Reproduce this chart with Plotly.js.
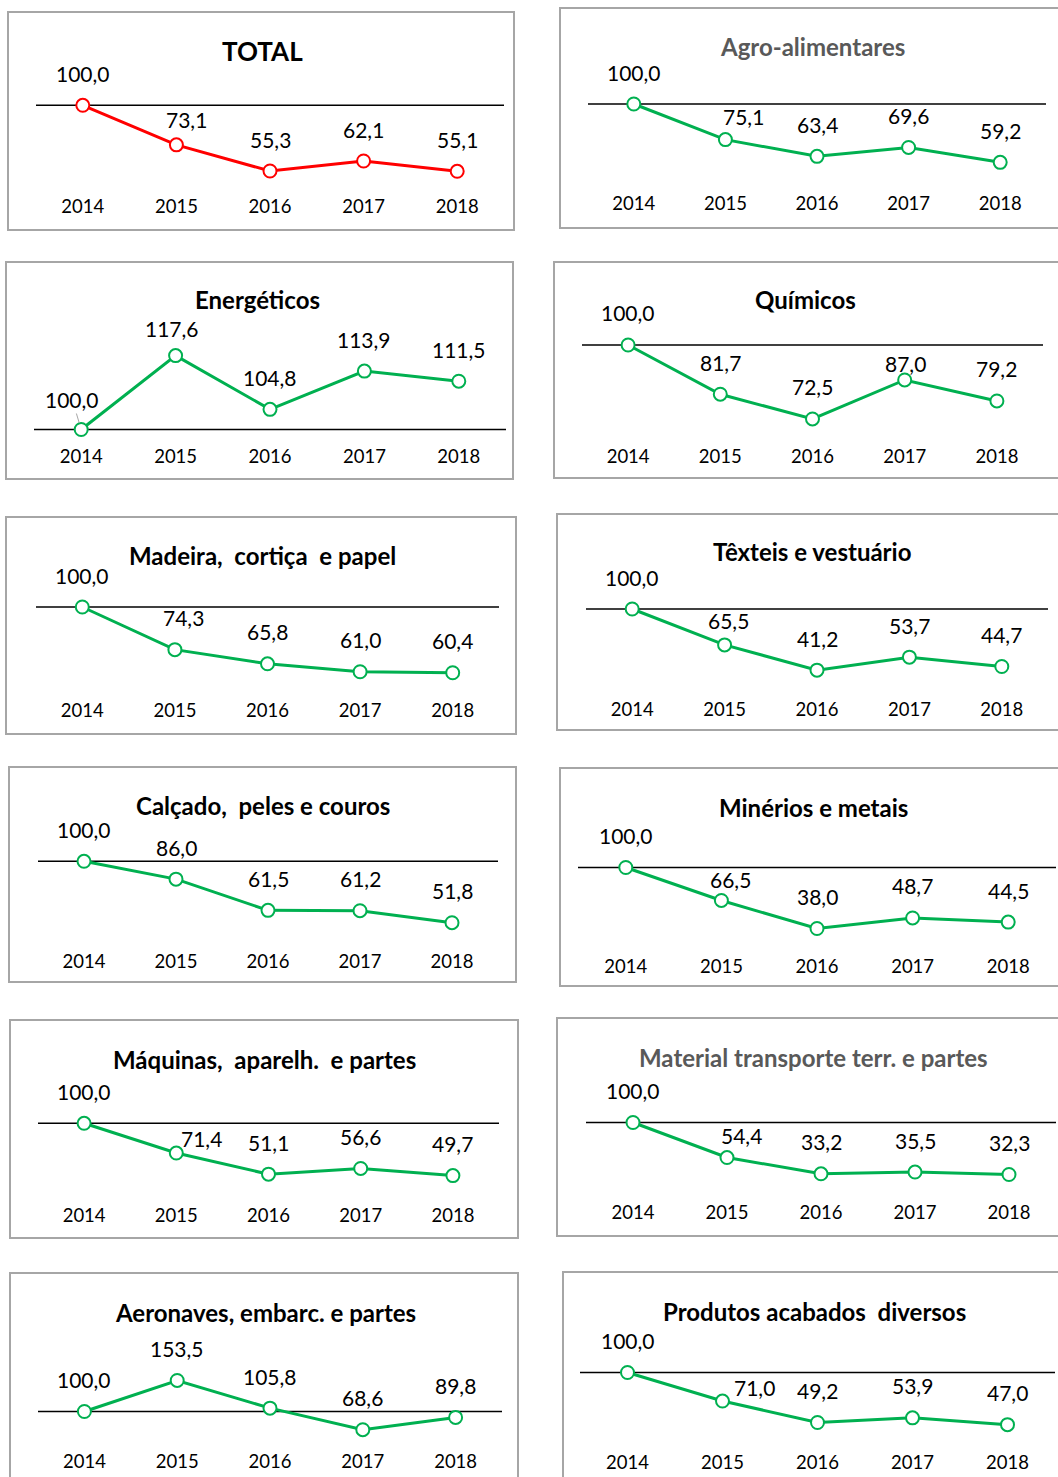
<!DOCTYPE html>
<html><head><meta charset="utf-8">
<script src="https://cdn.plot.ly/plotly-3.0.1.min.js"></script>
<style>html,body{margin:0;padding:0;background:#fff;} #chart{width:1058px;height:1477px;}</style>
</head><body><div id="chart"></div>
<script>
// ---------- DATA ----------
const years = ['2014', '2015', '2016', '2017', '2018'];
const titles = ['TOTAL', 'Agro-alimentares', 'Energéticos', 'Químicos',
  'Madeira,  cortiça  e papel', 'Têxteis e vestuário', 'Calçado,  peles e couros',
  'Minérios e metais', 'Máquinas,  aparelh.  e partes', 'Material transporte terr. e partes',
  'Aeronaves, embarc. e partes', 'Produtos acabados  diversos'];
const total       = [100.0, 73.1, 55.3, 62.1, 55.1];
const agro        = [100.0, 75.1, 63.4, 69.6, 59.2];
const energeticos = [100.0, 117.6, 104.8, 113.9, 111.5];
const quimicos    = [100.0, 81.7, 72.5, 87.0, 79.2];
const madeira     = [100.0, 74.3, 65.8, 61.0, 60.4];
const texteis     = [100.0, 65.5, 41.2, 53.7, 44.7];
const calcado     = [100.0, 86.0, 61.5, 61.2, 51.8];
const minerios    = [100.0, 66.5, 38.0, 48.7, 44.5];
const maquinas    = [100.0, 71.4, 51.1, 56.6, 49.7];
const material    = [100.0, 54.4, 33.2, 35.5, 32.3];
const aeronaves   = [100.0, 153.5, 105.8, 68.6, 89.8];
const produtos    = [100.0, 71.0, 49.2, 53.9, 47.0];
const baseIndex = 100;
const series = [total, agro, energeticos, quimicos, madeira, texteis, calcado,
  minerios, maquinas, material, aeronaves, produtos];

// ---------- LAYOUT CONFIG (pixels) ----------
const W = 1058, H = 1477;
const FONT = 'Lato, "Noto Sans", sans-serif';
const GREEN = '#00B050', RED = '#FF0000';
const panels = [
  {box:[8,12,514,230],     x:[36,504],  base:105.3,  scale:1.47,  yearY:206.5, title:[262,51],  tsize:26, color:RED},
  {box:[560,8,1064,228],   x:[588,1046],base:104,    scale:1.43,  yearY:203,  title:[812,47],  tcolor:'#595959'},
  {box:[6,262,513,479],    x:[34,506],  base:429.5,  scale:4.2,   yearY:456.5, title:[257,300]},
  {box:[554,262,1064,478], x:[582,1043],base:345,    scale:2.69,  yearY:456,  title:[805,300]},
  {box:[6,517,516,734],    x:[36,499],  base:607,    scale:1.66,  yearY:710.5, title:[262,555]},
  {box:[557,514,1064,730], x:[586,1048],base:609,    scale:1.04,  yearY:709,  title:[812,552]},
  {box:[9,767,516,982],    x:[38,498],  base:861.3,  scale:1.274, yearY:961.5, title:[263,805]},
  {box:[560,768,1064,986], x:[578,1056],base:867.5,  scale:0.984, yearY:966,  title:[813,807]},
  {box:[10,1020,518,1238], x:[38,499],  base:1123.3, scale:1.04,  yearY:1215, title:[264,1059]},
  {box:[557,1018,1064,1236],x:[586,1056],base:1122.5,scale:0.768, yearY:1212, title:[813,1057], tcolor:'#595959'},
  {box:[10,1273,518,1485], x:[38,502],  base:1411.5, scale:0.58,  yearY:1461.5, title:[265,1312]},
  {box:[563,1272,1064,1485],x:[580,1055],base:1372.5,scale:0.984, yearY:1462, title:[814,1311]}
];
// label placement tweaks: "panel-point": [dx, px above]
const labelAdjust = {
  '0-1':[10,22], '1-1':[18,20], '2-0':[-9,27], '2-1':[-4,24], '3-3':[1,13],
  '4-1':[9,29], '5-1':[4,21], '7-1':[9,18], '8-1':[25,12], '9-1':[14,19], '11-1':[32,11]
};
const LABEL_ABOVE = 29;
const LABEL_EXTRA = 3;
const TICK_OFF = 13;

const fmt = v => v.toFixed(1).replace('.', ',');
const keepSpaces = s => s.replace(/  /g, ' \u00a0');

const traces = [], shapes = [], annotations = [];
const layout = {
  width: W, height: H, margin: {l:0, r:0, t:0, b:0},
  paper_bgcolor: '#fff', plot_bgcolor: 'rgba(0,0,0,0)',
  showlegend: false, font: {family: FONT, color: '#000'}
};

panels.forEach((p, i) => {
  const n = i === 0 ? '' : String(i + 1);
  const xa = 'x' + n, ya = 'y' + n;
  const bottom = p.yearY - TICK_OFF;
  const top = p.box[1] + 4;
  const yLow = baseIndex - (bottom - p.base) / p.scale;
  const yHigh = baseIndex + (p.base - top) / p.scale;
  layout['xaxis' + n] = {
    domain: [p.x[0] / W, p.x[1] / W], anchor: ya, type: 'category',
    range: [-0.5, 4.5], showgrid: false, zeroline: false, showline: false, ticks: '',
    tickfont: {family: FONT, size: 18.5, color: '#000'}, fixedrange: true
  };
  layout['yaxis' + n] = {
    domain: [1 - bottom / H, 1 - top / H], anchor: xa, range: [yLow, yHigh],
    visible: false, fixedrange: true
  };
  const col = p.color || GREEN;
  traces.push({
    type: 'scatter', mode: 'lines+markers', x: years, y: series[i],
    xaxis: xa, yaxis: ya, cliponaxis: false, hoverinfo: 'skip',
    line: {color: col, width: 3},
    marker: {symbol: 'circle', size: 13, color: '#fff', line: {color: col, width: 2}}
  });
  // box
  shapes.push({type:'rect', xref:'paper', yref:'paper', layer:'below',
    x0: p.box[0]/W, x1: p.box[2]/W, y0: 1 - p.box[3]/H, y1: 1 - p.box[1]/H,
    line: {color:'#a6a6a6', width: 2}, fillcolor:'rgba(0,0,0,0)'});
  // baseline at index 100
  shapes.push({type:'line', xref: xa + ' domain', yref: ya, layer:'below',
    x0: 0, x1: 1, y0: baseIndex, y1: baseIndex, line: {color:'#000', width: 1.5}});
  // title
  annotations.push({xref:'paper', yref:'paper', x: p.title[0]/W, y: 1 - p.title[1]/H,
    xanchor:'center', yanchor:'middle', showarrow:false,
    text: '<b>' + keepSpaces(titles[i]) + '</b>',
    font: {family: FONT, size: p.tsize || 24, color: p.tcolor || '#000'}});
  // data labels (x given as category index)
  series[i].forEach((v, k) => {
    const adj = labelAdjust[i + '-' + k] || [0, LABEL_ABOVE];
    const above = adj[1] + LABEL_EXTRA;
    const a = {xref: xa, yref: ya, x: k, y: v, text: fmt(v),
      font: {family: FONT, size: 21, color: '#000'}, xanchor:'center', yanchor:'middle'};
    if (i === 2 && k === 0) {
      Object.assign(a, {showarrow:true, arrowhead:0, arrowwidth:1, arrowcolor:'#a6a6a6',
        ax: adj[0], ay: -above, standoff: 7});
    } else {
      Object.assign(a, {showarrow:false, xshift: adj[0], yshift: above});
    }
    annotations.push(a);
  });
});
layout.shapes = shapes;
layout.annotations = annotations;
Plotly.newPlot('chart', traces, layout, {staticPlot: true, displayModeBar: false});
</script>
</body></html>
